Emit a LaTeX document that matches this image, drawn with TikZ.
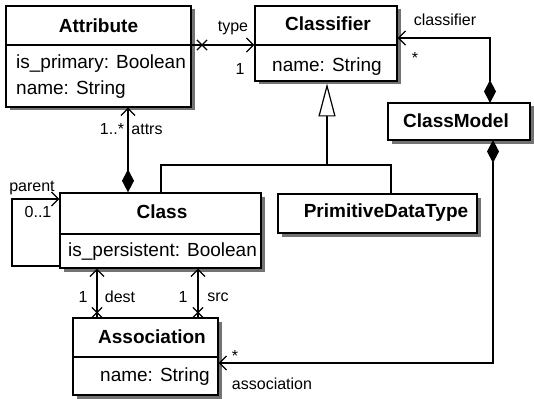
\documentclass[tikz,border=0pt]{standalone}
\usepackage{fontspec}
\setmainfont{Liberation Sans}
\usetikzlibrary{arrows.meta,shapes.misc,calc}
\begin{document}
\begin{tikzpicture}[x=1pt,y=-1pt,
  umlbox/.style={draw=black, line width=1.4pt, fill=white, inner sep=0pt},
  shadowcol/.style={fill=black!55},
  title/.style={font=\fontsize{19}{22}\selectfont\bfseries, inner sep=0pt},
  attrtext/.style={font=\fontsize{19}{22}\selectfont, inner sep=0pt, anchor=west},
  lbl/.style={font=\fontsize{16}{19}\selectfont, inner sep=0pt},
  conn/.style={line width=1.3pt},
  openarr/.style={-{Straight Barb[length=7pt,width=14pt,line width=1.2pt]}},
  diamarr/.style={{Diamond[length=23pt,width=12pt,fill=black]}-{Straight Barb[length=7pt,width=14pt,line width=1.2pt]}},
  xmark/.style={cross out, draw=black, line width=1.2pt, minimum size=9pt, inner sep=0pt},
  sep/.style={line width=2pt}
]
\useasboundingbox (0,0) rectangle (534,398);

% shadows
\fill[shadowcol] (9.5,9.5) rectangle (194.5,110.5);
\fill[shadowcol] (258.5,9.5) rectangle (400.5,84.5);
\fill[shadowcol] (391.5,106.5) rectangle (533.5,143.5);
\fill[shadowcol] (63.5,196.5) rectangle (264.5,271.5);
\fill[shadowcol] (281.5,197.5) rectangle (480.5,236.5);
\fill[shadowcol] (76.5,321.5) rectangle (221.5,398.5);

% boxes
\node[umlbox, minimum width=185pt, minimum height=101pt] (attr) at (98.5,56.5) {};
\node[umlbox, minimum width=142pt, minimum height=75pt] (clsf) at (326,43.5) {};
\node[umlbox, minimum width=142pt, minimum height=37pt] (cm) at (459,121.5) {};
\node[umlbox, minimum width=201pt, minimum height=75pt] (cls) at (160.5,230.5) {};
\node[umlbox, minimum width=199pt, minimum height=39pt] (pdt) at (377.5,213.5) {};
\node[umlbox, minimum width=145pt, minimum height=77pt] (assoc) at (145.5,356.5) {};

% separators
\draw[sep] (attr.west |- 0,45) -- (attr.east |- 0,45);
\draw[sep] (clsf.west |- 0,45) -- (clsf.east |- 0,45);
\draw[sep] (cls.west |- 0,234) -- (cls.east |- 0,234);
\draw[sep] (assoc.west |- 0,357) -- (assoc.east |- 0,357);

% texts
\node[title] (attrT) at (98.5,26) {Attribute};
\node[attrtext] (attrA1) at (16,64) {is\_primary: Boolean};
\node[attrtext] (attrA2) at (16,90) {name: String};
\node[title] (clsfT) at (328,24) {Classifier};
\node[attrtext] (clsfA1) at (272,67) {name: String};
\node[title] (cmT) at (456,121) {ClassModel};
\node[title] (clsT) at (162,212) {Class};
\node[attrtext] (clsA1) at (68,252) {is\_persistent: Boolean};
\node[title] (pdtT) at (386,213) {PrimitiveDataType};
\node[title] (assocT) at (152,337) {Association};
\node[attrtext] (assocA1) at (100,377) {name: String};

% type association
\draw[conn, openarr] (attr.east |- 0,45) -- (clsf.west |- 0,45);
\node[xmark] (tx) at (202,45) {};
\node[lbl] (typeL) at (233,28) {type};
\node[lbl] (typeM) at (240,69) {1};

% attrs composition
\draw[conn, diamarr] (cls.north -| 128,0) -- (attr.south -| 128,0);
\node[lbl] (attrsM) at (112,129) {1..*};
\node[lbl] (attrsL) at (147,129) {attrs};

% classifier composition
\coordinate (cmTop) at (490,103);
\coordinate (cfBend) at (490,38);
\draw[conn, diamarr] (cmTop) -- (cfBend) -- (clsf.east |- 0,38);
\node[lbl] (clsfL) at (445,20) {classifier};
\node[lbl] (clsfM) at (415,58) {*};

% association composition
\coordinate (cmBot) at (493,140);
\coordinate (asBend) at (493,363);
\draw[conn, diamarr] (cmBot) -- (asBend) -- (assoc.east |- 0,363);
\node[lbl] (asM) at (235,356) {*};
\node[lbl] (asL) at (272,384) {association};

% generalization
\coordinate (gTop) at (327,83.5);
\coordinate (gJoin) at (327,165);
\coordinate (gL) at (161,165);
\coordinate (gR) at (391,165);
\draw[conn, -{Triangle[open, length=33pt, width=17pt, line width=1.2pt, fill=white]}] (gJoin) -- (gTop);
\draw[conn] (cls.north -| gL) -- (gL) -- (gR) -- (pdt.north -| gR);

% self loop parent
\coordinate (pA) at (12,266);
\coordinate (pB) at (12,199);
\draw[conn, openarr] (cls.west |- 0,266) -- (pA) -- (pB) -- (cls.west |- 0,199);
\node[lbl] (parL) at (32,188) {parent};
\node[lbl] (parM) at (38,212) {0..1};

% dest / src
\draw[conn, openarr] (assoc.north -| 97,0) -- (cls.south -| 97,0);
\node[xmark] (dx) at (97,312.5) {};
\node[lbl] (destM) at (83,297) {1};
\node[lbl] (destL) at (120,297) {dest};
\draw[conn, openarr] (assoc.north -| 198,0) -- (cls.south -| 198,0);
\node[xmark] (sx) at (198,312.5) {};
\node[lbl] (srcM) at (183,297) {1};
\node[lbl] (srcL) at (218,297) {src};
\end{tikzpicture}
\end{document}
